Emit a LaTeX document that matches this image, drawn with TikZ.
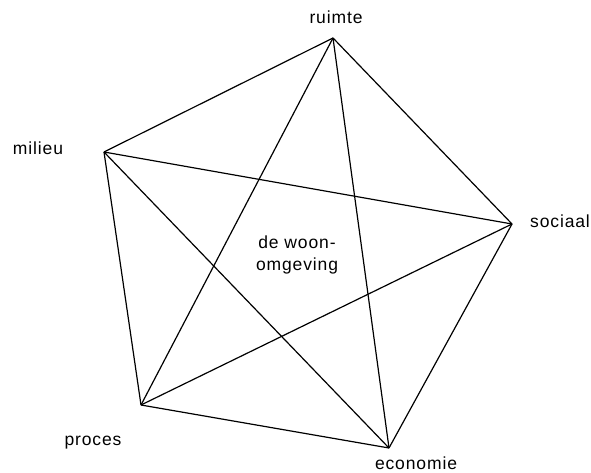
\documentclass[tikz,border=0pt]{standalone}
\usepackage{fontspec}
\setmainfont{Liberation Sans}[LetterSpace=5]
\usepackage{tikz}
\usetikzlibrary{positioning}

\begin{document}
\begin{tikzpicture}[
        x=1pt, y=1pt,
        edge/.style={draw=black, line width=1.2pt},
        tag/.style={font=\fontsize{17.5}{20}\selectfont, inner sep=1pt, text=black},
        centre/.style={font=\fontsize{17.5}{22}\selectfont, align=center, text=black}
    ]
        \useasboundingbox (0,0) rectangle (591,473);

        % Corners of the pentagon
        \coordinate (ruimte)   at (333,435);
        \coordinate (milieu)   at (104,321);
        \coordinate (sociaal)  at (512,249);
        \coordinate (proces)   at (141,68);
        \coordinate (economie) at (389,25);

        % Labels
        \node[tag] (truimte)   at (336,456) {ruimte};
        \node[tag] (tmilieu)   at (38,325)  {milieu};
        \node[tag] (tsociaal)  at (560,252) {sociaal};
        \node[tag] (tproces)   at (93,30)   {proces};
        \node[tag] (teconomie) at (416,10)  {economie};
        \node[centre] (centrum) at (297,218) {de woon-\\omgeving};

        % Sides and diagonals
        \foreach \a/\b in {ruimte/milieu, ruimte/sociaal, ruimte/proces, ruimte/economie,
                           milieu/sociaal, milieu/proces, milieu/economie,
                           sociaal/proces, sociaal/economie, proces/economie}
            \draw[edge] (\a) -- (\b);

    \end{tikzpicture}
\end{document}
